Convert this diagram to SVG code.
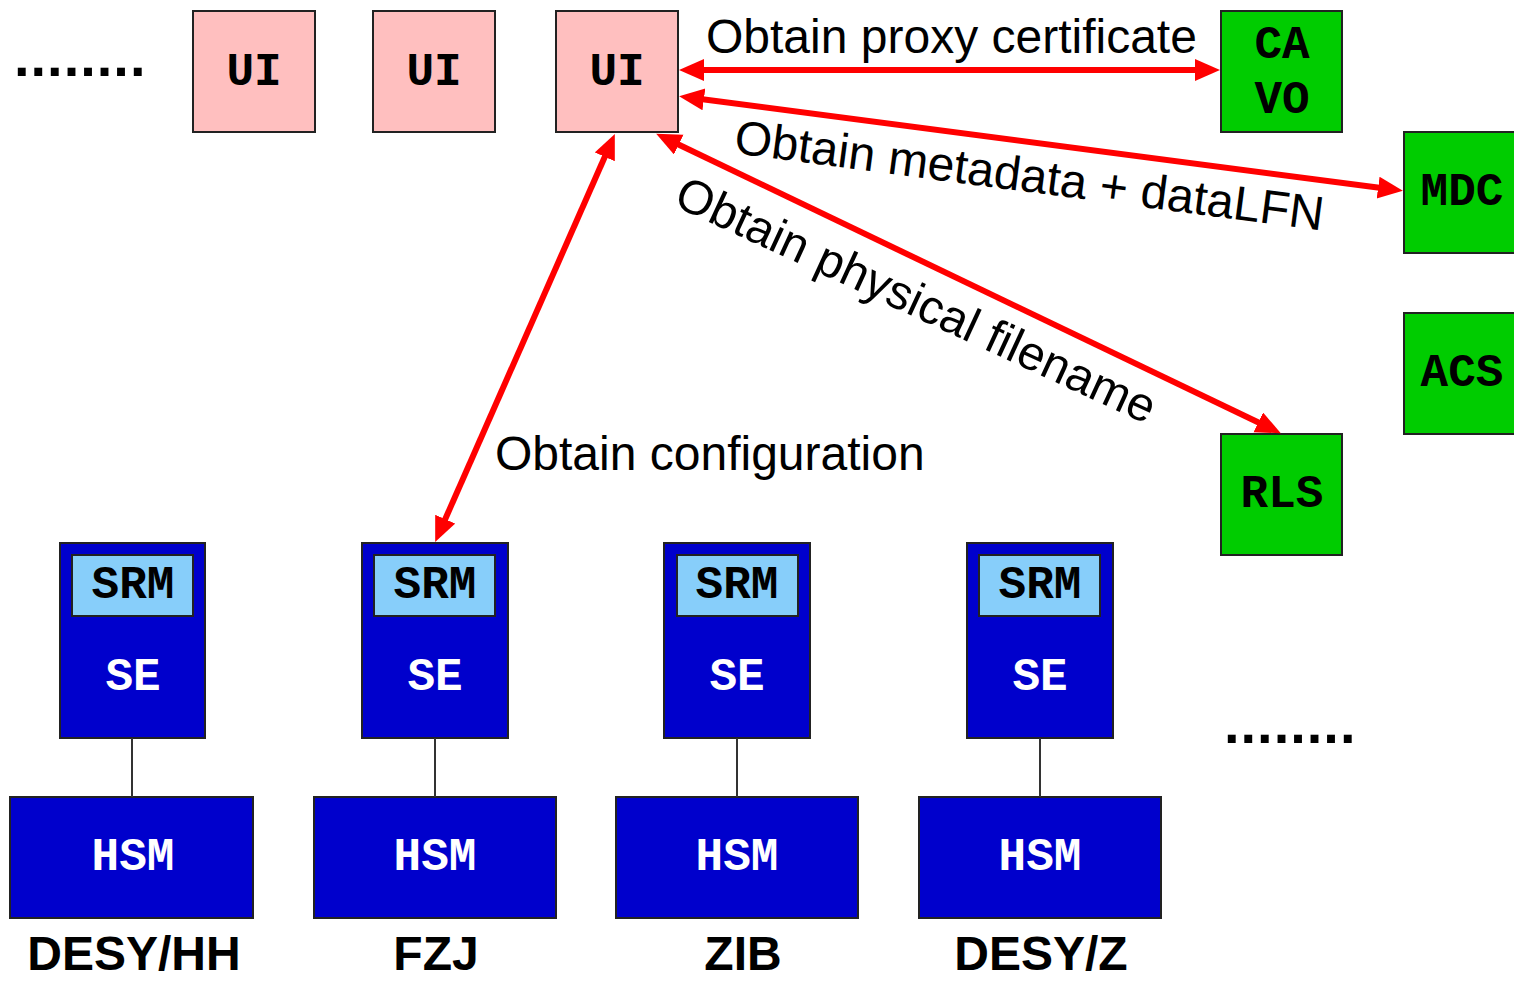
<svg xmlns="http://www.w3.org/2000/svg" width="1514" height="981" viewBox="0 0 1514 981">
  <style>
    .box { stroke: #222; stroke-width: 2; }
    .ui { fill: #FFBFBF; }
    .grn { fill: #00CC00; }
    .blu { fill: #0000CC; }
    .srm { fill: #87CEFA; }
    .mono { font-family: "Liberation Mono", "Courier New", monospace; font-weight: bold; font-size: 46px; text-anchor: middle; }
    .lbl { font-family: "Liberation Sans", Arial, sans-serif; font-size: 48px; fill: #000; }
    .site { font-family: "Liberation Sans", Arial, sans-serif; font-weight: bold; font-size: 48px; text-anchor: middle; fill: #000; }
    .dots { font-family: "Liberation Sans", Arial, sans-serif; font-weight: bold; font-size: 56px; letter-spacing: 1px; fill: #000; }
    .conn { stroke: #FF0000; stroke-width: 6; fill: none; marker-start: url(#ah); marker-end: url(#ah); }
    .link { stroke: #333; stroke-width: 2; }
  </style>
  <defs>
    <marker id="ah" markerUnits="userSpaceOnUse" markerWidth="28" markerHeight="26" refX="13" refY="11" orient="auto-start-reverse">
      <path d="M0,0 L25,11 L0,22 Z" fill="#FF0000"/>
    </marker>
  </defs>
  <rect width="1514" height="981" fill="#fff"/>

  <text class="dots" x="14" y="76">........</text>
  <text class="dots" x="1224" y="743">........</text>

  <g id="ui1"><rect class="box ui" x="193" y="11" width="122" height="121"/><text class="mono" x="254" y="85">UI</text></g>
  <g id="ui2"><rect class="box ui" x="373" y="11" width="122" height="121"/><text class="mono" x="434" y="85">UI</text></g>
  <g id="ui3"><rect class="box ui" x="556" y="11" width="122" height="121"/><text class="mono" x="617" y="85">UI</text></g>

  <g id="cavo"><rect class="box grn" x="1221" y="11" width="121" height="121"/><text class="mono" x="1282" y="58">CA</text><text class="mono" x="1282" y="113">VO</text></g>
  <g id="mdc"><rect class="box grn" x="1404" y="132" width="122" height="121"/><text class="mono" x="1462" y="205">MDC</text></g>
  <g id="acs"><rect class="box grn" x="1404" y="313" width="122" height="121"/><text class="mono" x="1462" y="386">ACS</text></g>
  <g id="rls"><rect class="box grn" x="1221" y="434" width="121" height="121"/><text class="mono" x="1282" y="507">RLS</text></g>

  <g id="site1">
    <rect class="box blu" x="60" y="543" width="145" height="195"/>
    <rect class="box srm" x="72" y="555" width="121" height="61"/>
    <text class="mono" x="133" y="598">SRM</text>
    <text class="mono" x="133" y="690" fill="#fff">SE</text>
    <rect class="box blu" x="10" y="797" width="243" height="121"/>
    <text class="mono" x="133" y="870" fill="#fff">HSM</text>
    <text class="site" x="134" y="970">DESY/HH</text>
  </g>
  <g id="site2">
    <rect class="box blu" x="362" y="543" width="146" height="195"/>
    <rect class="box srm" x="374" y="555" width="121" height="61"/>
    <text class="mono" x="435" y="598">SRM</text>
    <text class="mono" x="435" y="690" fill="#fff">SE</text>
    <rect class="box blu" x="314" y="797" width="242" height="121"/>
    <text class="mono" x="435" y="870" fill="#fff">HSM</text>
    <text class="site" x="436" y="970">FZJ</text>
  </g>
  <g id="site3">
    <rect class="box blu" x="664" y="543" width="146" height="195"/>
    <rect class="box srm" x="677" y="555" width="121" height="61"/>
    <text class="mono" x="737" y="598">SRM</text>
    <text class="mono" x="737" y="690" fill="#fff">SE</text>
    <rect class="box blu" x="616" y="797" width="242" height="121"/>
    <text class="mono" x="737" y="870" fill="#fff">HSM</text>
    <text class="site" x="743" y="970">ZIB</text>
  </g>
  <g id="site4">
    <rect class="box blu" x="967" y="543" width="146" height="195"/>
    <rect class="box srm" x="979" y="555" width="121" height="61"/>
    <text class="mono" x="1040" y="598">SRM</text>
    <text class="mono" x="1040" y="690" fill="#fff">SE</text>
    <rect class="box blu" x="919" y="797" width="242" height="121"/>
    <text class="mono" x="1040" y="870" fill="#fff">HSM</text>
    <text class="site" x="1041" y="970">DESY/Z</text>
  </g>

  <g id="connectors">
    <line class="link" x1="132" y1="738" x2="132" y2="797"/>
    <line class="link" x1="435" y1="738" x2="435" y2="797"/>
    <line class="link" x1="737" y1="738" x2="737" y2="797"/>
    <line class="link" x1="1040" y1="738" x2="1040" y2="797"/>
    <line class="conn" x1="691" y1="70" x2="1208" y2="70"/>
    <line class="conn" x1="691" y1="97.7" x2="1391" y2="189.3"/>
    <line class="conn" x1="667" y1="139" x2="1270" y2="428"/>
    <line class="conn" x1="610" y1="145" x2="440" y2="531"/>
  </g>

  <g id="labels">
    <text class="lbl" x="706" y="53">Obtain proxy certificate</text>
    <text class="lbl" transform="translate(733,153) rotate(7.5)">Obtain metadata + dataLFN</text>
    <text class="lbl" transform="translate(672,205) rotate(24.8)">Obtain physical filename</text>
    <text class="lbl" x="495" y="470">Obtain configuration</text>
  </g>
</svg>
